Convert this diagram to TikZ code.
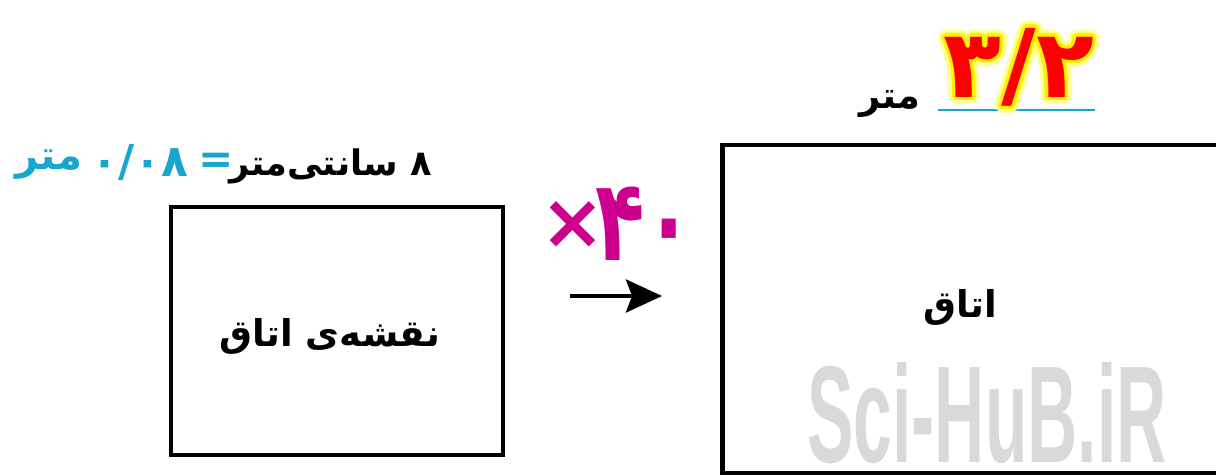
\documentclass[tikz,border=0pt]{standalone}
\usepackage{fontspec}
\usepackage{graphicx}
\usetikzlibrary{arrows.meta,positioning}
\TeXXeTstate=1
\setmainfont{Liberation Sans}
\newfontfamily\farsi[Script=Arabic]{DejaVu Sans}
\definecolor{mapblue}{RGB}{24,166,206}
\definecolor{scalepink}{RGB}{204,0,140}
\definecolor{ratiored}{RGB}{250,0,0}
\definecolor{glowyellow}{RGB}{255,240,0}
\definecolor{glowpale}{RGB}{255,255,150}
\definecolor{markgray}{RGB}{216,218,218}
\tikzset{
  box/.style={draw,line width=2.8pt,inner sep=0pt},
  fa/.style={font=\farsi\bfseries\fontsize{#1}{#1}\selectfont,inner sep=0pt},
  fa/.default=20,
}
\begin{document}
\begin{tikzpicture}[x=0.02cm,y=-0.02cm]
  \useasboundingbox (0,0) rectangle (1216,476);
  \clip (0,0) rectangle (1216,476);
  % watermark
  \node[text=markgray,font=\bfseries,inner sep=0pt] (mark) at (987,413)
    {\resizebox{7.18cm}{2cm}{Sci-HuB.iR}};
  % the two boxes
  \node[box,minimum width=6.64cm,minimum height=4.96cm] (map) at (337,331) {};
  \node[fa=21] (maplabel) at (330,336) {\beginR نقشه‌ی اتاق\endR};
  \node[box,minimum width=10.34cm,minimum height=6.56cm] (room) at (981,309) {};
  \node[fa=21] (roomlabel) at (960,307) {\beginR اتاق\endR};
  % length on the map
  \node[fa,anchor=east] (cm) at (432,166) {\beginR ۸ سانتی‌متر\endR};
  \node[fa=24,text=mapblue] (eq) at (216,163) {=};
  \node[fa=25,text=mapblue] (mnum) at (140,163) {۰/۰۸};
  \node[fa=23,text=mapblue] (munit) at (49,165) {\beginR متر\endR};
  % scale factor
  \node[fa=44,text=scalepink] (times) at (573,225) {×};
  \node[fa=46,text=scalepink] (factor) at (645,224) {\scalebox{1}[1.4]{۴۰}};
  \coordinate (arrs) at (570,296);
  \coordinate (arre) at (662,296);
  \draw[line width=2.3pt,-{Stealth[length=0.72cm,width=0.66cm,inset=0.12cm]}] (arrs) -- (arre);
  % length of the room
  \draw[mapblue,line width=1.6pt] (938,110) -- (1095,110);
  \foreach \a in {0,20,...,340}
    \path (1019,67) ++(\a:7) node[fa=54,text=glowpale] {۳/۲};
  \foreach \a in {0,30,...,330}
    \path (1019,67) ++(\a:3.5) node[fa=54,text=glowyellow] {۳/۲};
  \node[fa=54,text=ratiored] (ratio) at (1019,67) {۳/۲};
  \node[fa=21] (runit) at (890,104) {\beginR متر\endR};
\end{tikzpicture}
\end{document}
